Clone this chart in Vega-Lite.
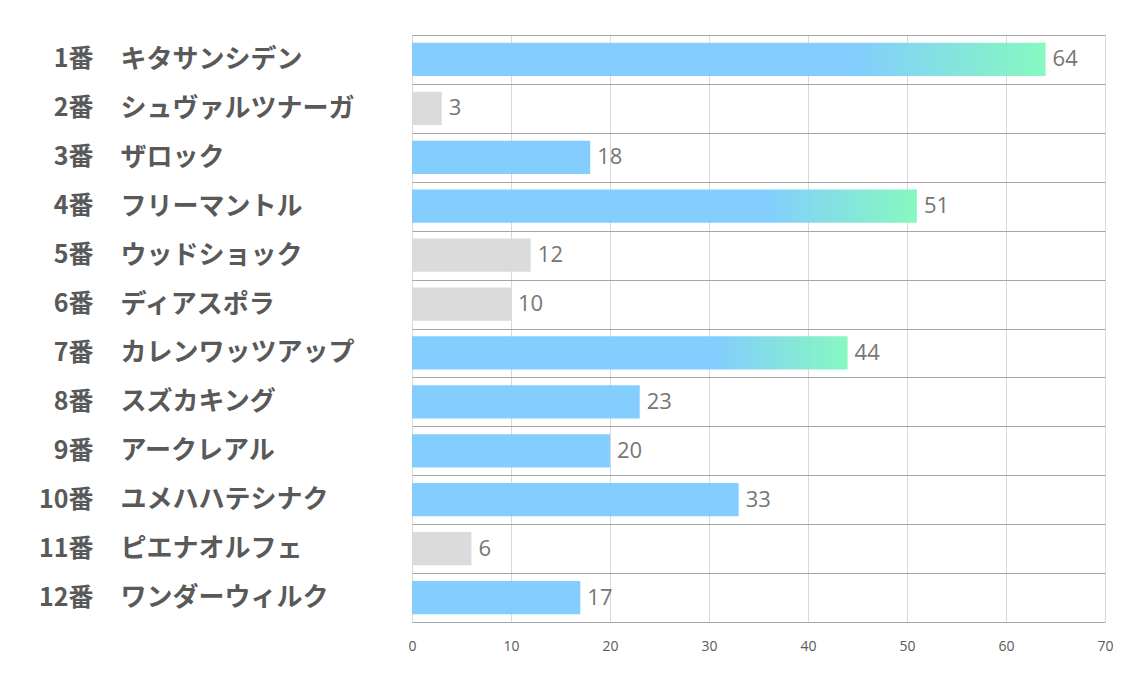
{
  "$schema": "https://vega.github.io/schema/vega-lite/v6.json",
  "autosize": "none",
  "width": 693,
  "height": 587,
  "padding": {"left": 412, "top": 35, "right": 29, "bottom": 58},
  "background": "white",
  "data": {
    "values": [
      {"label": "1番　キタサンシデン", "value": 64, "group": "top"},
      {"label": "2番　シュヴァルツナーガ", "value": 3, "group": "low"},
      {"label": "3番　ザロック", "value": 18, "group": "mid"},
      {"label": "4番　フリーマントル", "value": 51, "group": "top"},
      {"label": "5番　ウッドショック", "value": 12, "group": "low"},
      {"label": "6番　ディアスポラ", "value": 10, "group": "low"},
      {"label": "7番　カレンワッツアップ", "value": 44, "group": "top"},
      {"label": "8番　スズカキング", "value": 23, "group": "mid"},
      {"label": "9番　アークレアル", "value": 20, "group": "mid"},
      {"label": "10番　ユメハハテシナク", "value": 33, "group": "mid"},
      {"label": "11番　ピエナオルフェ", "value": 6, "group": "low"},
      {"label": "12番　ワンダーウィルク", "value": 17, "group": "mid"}
    ]
  },
  "encoding": {
    "x": {
      "field": "value", "type": "quantitative",
      "scale": {"domain": [0, 70], "nice": false},
      "axis": {
        "title": null, "values": [0, 10, 20, 30, 40, 50, 60, 70],
        "domain": false, "ticks": false, "grid": true, "gridColor": "#d9d9d9", "gridWidth": 1,
        "labelFlush": false, "labelBound": false,
        "labelFont": "Open Sans", "labelFontSize": 14, "labelColor": "#595959", "labelPadding": 17
      }
    },
    "y": {
      "field": "label", "type": "nominal", "sort": null,
      "scale": {"paddingInner": 0, "paddingOuter": 0}
    }
  },
  "layer": [
    {
      "mark": {"type": "text", "align": "left", "baseline": "middle", "dx": 7, "font": "Open Sans", "fontSize": 22, "color": "#767676"},
      "encoding": {
        "text": {"field": "value", "type": "quantitative"},
        "y": {
          "field": "label", "type": "nominal", "sort": null,
          "axis": {
            "orient": "left", "title": null, "domain": false, "ticks": false,
            "grid": true, "tickBand": "extent", "gridColor": "#a6a6a6", "gridWidth": 1,
            "labelExpr": "split(datum.label, '　')[1]",
            "labelAlign": "left", "labelPadding": 292, "labelLimit": 0,
            "labelFont": "Noto Sans CJK JP", "labelFontWeight": "bold", "labelFontSize": 26, "labelColor": "#595959"
          }
        }
      }
    },
    {
      "transform": [{"filter": "datum.group == 'low'"}],
      "mark": {"type": "bar", "color": "#d9d9d9", "opacity": 0.95, "height": {"band": 0.68}},
      "encoding": {
        "y": {
          "field": "label", "type": "nominal", "sort": null,
          "axis": {
            "orient": "left", "title": null, "domain": false, "ticks": false, "grid": false,
            "labelExpr": "split(datum.label, '　')[0]",
            "labelAlign": "right", "labelPadding": 319,
            "labelFont": "Noto Sans CJK JP", "labelFontWeight": "bold", "labelFontSize": 25, "labelColor": "#595959"
          }
        }
      }
    },
    {
      "transform": [{"filter": "datum.group == 'mid'"}],
      "mark": {"type": "bar", "color": "#7ccbfe", "opacity": 0.95, "height": {"band": 0.68}},
      "encoding": {"y": {"field": "label", "type": "nominal", "sort": null, "axis": null}}
    },
    {
      "transform": [{"filter": "datum.group == 'top'"}],
      "mark": {
        "type": "bar", "opacity": 0.95, "height": {"band": 0.68},
        "color": {
          "gradient": "linear", "x1": 0, "y1": 0, "x2": 1, "y2": 0,
          "stops": [
            {"offset": 0, "color": "#7ccbfe"},
            {"offset": 0.7, "color": "#7ccbfe"},
            {"offset": 1, "color": "#80f8bc"}
          ]
        }
      },
      "encoding": {"y": {"field": "label", "type": "nominal", "sort": null, "axis": null}}
    }
  ],
  "resolve": {"axis": {"y": "independent"}}
}
